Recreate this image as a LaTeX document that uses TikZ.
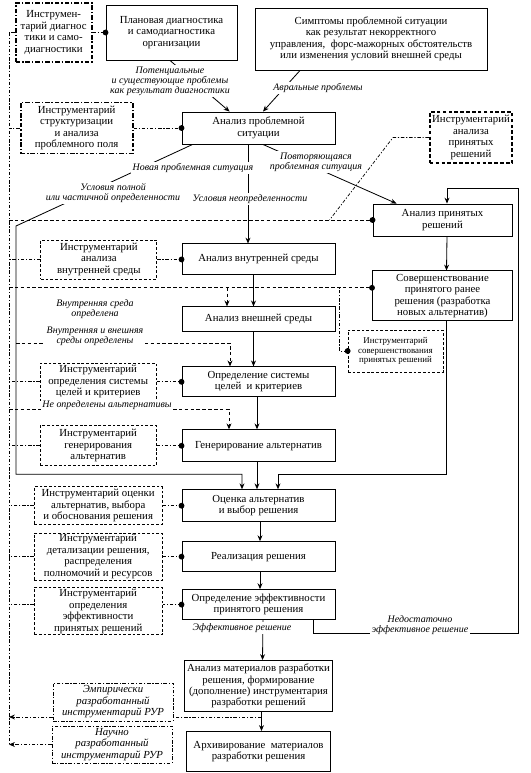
\documentclass[tikz,border=0pt]{standalone}
\usepackage{fontspec}
\setmainfont{Liberation Serif}
\usepackage{tikz}
\usetikzlibrary{arrows.meta,positioning,calc}
\newcommand{\boxfont}{\fontsize{9.2}{9.8}\selectfont}
\newcommand{\smallboxfont}{\fontsize{7.6}{8.4}\selectfont}
\newcommand{\lblfont}{\fontsize{8.5}{8.6}\selectfont\itshape}
\tikzset{
  stagebox/.style={rectangle,draw=black,line width=0.8pt,fill=white,align=center,
    font=\boxfont,minimum width=4.59cm,inner xsep=2pt,inner ysep=1pt},
  toolbox/.style={rectangle,draw=black,line width=0.6pt,dash pattern=on 2.4pt off 1.6pt,
    fill=white,align=center,font=\boxfont,inner xsep=2pt,inner ysep=1pt},
  boldtool/.style={toolbox,line width=1.5pt,dash pattern=on 4pt off 1.6pt on 1.2pt off 1.6pt},
  boldtooldash/.style={toolbox,line width=1.5pt,dash pattern=on 3pt off 2pt},
  rurbox/.style={toolbox,dash pattern=on 3pt off 1.5pt on 1pt off 1.5pt,font=\boxfont\itshape},
  flowarr/.style={-{Stealth[length=5pt,width=4.2pt]},line width=0.7pt},
  toolline/.style={line width=0.6pt,dash pattern=on 3pt off 1.5pt on 1pt off 1.5pt},
  condline/.style={line width=0.6pt,dash pattern=on 3pt off 2pt},
  condlbl/.style={font=\lblfont,fill=white,align=center,inner sep=1.5pt},
  joint/.style={circle,fill=black,inner sep=0pt,minimum size=5pt},
}
\begin{document}
\begin{tikzpicture}[x=0.03cm,y=-0.03cm]
  \useasboundingbox (0,0) rectangle (531,773);
  % top row
  \node[stagebox,minimum width=3.93cm,minimum height=1.65cm] (plan) at (171.5,32.5) {Плановая диагностика\\и самодиагностика\\организации};
  \node[boldtool,minimum width=2.28cm,minimum height=1.77cm,left=0.39cm of plan] (diagtool) {Инструмен-\\тарий диагнос\\тики и само-\\диагностики};
  \node[stagebox,minimum width=6.96cm,minimum height=1.86cm] (sympt) at (371,39) {Симптомы проблемной ситуации\\как результат некорректного\\управления,\ \ форс-мажорных обстоятельств\\или изменения условий внешней среды};

  % main column
  \node[stagebox,minimum height=0.96cm] (probl) at (258.5,128) {Анализ проблемной\\ситуации};
  \node[stagebox,minimum height=0.93cm,below=2.97cm of probl] (inner) {Анализ внутренней среды};
  \node[stagebox,minimum height=0.75cm,below=0.93cm of inner] (outer) {Анализ внешней среды};
  \node[stagebox,minimum height=0.9cm,below=1.02cm of outer] (goals) {Определение системы\\целей\ \ и критериев};
  \node[stagebox,minimum height=0.96cm,below=0.96cm of goals] (gener) {Генерирование альтернатив};
  \node[stagebox,minimum height=0.96cm,below=0.81cm of gener] (choice) {Оценка альтернатив\\и выбор решения};
  \node[stagebox,minimum height=0.9cm,below=0.57cm of choice] (impl) {Реализация решения};
  \node[stagebox,minimum height=0.9cm,below=0.51cm of impl] (effect) {Определение эффективности\\принятого решения};
  \node[stagebox,minimum width=4.32cm,minimum height=1.53cm,below=1.2cm of effect] (materials) {Анализ материалов разработки\\решения, формирование\\(дополнение) инструментария\\разработки решений};
  \node[stagebox,minimum width=4.32cm,minimum height=1.2cm,below=0.57cm of materials] (archive) {Архивирование\ \ материалов\\разработки решения};

  % tools on the left
  \node[boldtool,minimum width=3.36cm,minimum height=1.53cm,left=1.44cm of probl] (structtool) {Инструментарий\\структуризации\\и анализа\\проблемного поля};
  \node[toolbox,minimum width=3.48cm,minimum height=1.17cm,left=0.73cm of inner] (innertool) {Инструментарий\\анализа\\внутренней среды};
  \node[toolbox,minimum width=3.48cm,minimum height=1.11cm,left=0.75cm of goals] (goalstool) {Инструментарий\\определения системы\\целей и критериев};
  \node[toolbox,minimum width=3.48cm,minimum height=1.2cm,left=0.75cm of gener] (genertool) {Инструментарий\\генерирования\\альтернатив};
  \node[toolbox,minimum width=3.84cm,minimum height=1.14cm,left=0.57cm of choice] (choicetool) {Инструментарий оценки\\альтернатив, выбора\\и обоснования решения};
  \node[toolbox,minimum width=3.84cm,minimum height=1.41cm,left=0.57cm of impl] (impltool) {Инструментарий\\детализации решения,\\распределения\\полномочий и ресурсов};
  \node[toolbox,minimum width=3.84cm,minimum height=1.41cm,left=0.57cm of effect,yshift=-0.2cm] (effecttool) {Инструментарий\\определения\\эффективности\\принятых решений};

  % right column
  \node[boldtooldash,minimum width=2.4cm,minimum height=1.53cm] (reviewtool) at (471,137.5) {Инструментарий\\анализа\\принятых\\решений};
  \node[stagebox,minimum width=4.17cm,minimum height=0.96cm] (review) at (442.5,220) {Анализ принятых\\решений};
  \node[stagebox,minimum width=4.2cm,minimum height=1.5cm,below=1.02cm of review] (improve) {Совершенствование\\принятого ранее\\решения (разработка\\новых альтернатив)};
  \node[toolbox,font=\smallboxfont,minimum width=2.85cm,minimum height=1.26cm] (improvetool) at (395.5,351) {Инструментарий\\совершенствования\\принятых решений};

  % RUR tools
  \node[rurbox,minimum width=3.6cm,minimum height=1.14cm] (emptool) at (113,702) {Эмпирически\\разработанный\\инструментарий РУР};
  \node[rurbox,minimum width=3.6cm,minimum height=1.11cm] (scitool) at (112,744.5) {Научно\\разработанный\\инструментарий РУР};

  \coordinate (busx) at (9,0);
  \coordinate (loopL) at (16,226);
  \coordinate (loopR) at (518,188);
  \coordinate (choiceL) at ($(choice.north)+(-16.5,0)$);
  \coordinate (choiceR) at ($(choice.north)+(19.5,0)$);
  \coordinate (outerin) at ($(outer.north)+(-31.5,0)$);
  \coordinate (goalsin) at ($(goals.north)+(-28.5,0)$);
  \coordinate (generin) at ($(gener.north)+(-29.5,0)$);
  \coordinate (impin) at ($(improve.north west)!0.34!(improve.south west)$);
  \coordinate (emptap) at ($(materials.south)+(3,5)$);

  % tool bus
  \draw[toolline] (busx |- diagtool.west) -- (busx |- scitool.west);
  \draw[toolline] (diagtool.west) -- (busx |- diagtool.west);
  \draw[toolline] (diagtool.east) -- (plan.west);
  \draw[toolline] (structtool.west) -- (busx |- structtool.west);
  \draw[toolline] (structtool.east) -- (probl.west);
  \draw[toolline] (innertool.west) -- (busx |- innertool.west);
  \draw[toolline] (innertool.east) -- (inner.west);
  \draw[toolline] (goalstool.west) -- (busx |- goalstool.west);
  \draw[toolline] (goalstool.east) -- (goals.west);
  \draw[toolline] (genertool.west) -- (busx |- genertool.west);
  \draw[toolline] (genertool.east) -- (gener.west);
  \draw[toolline] (choicetool.west) -- (busx |- choicetool.west);
  \draw[toolline] (choicetool.east) -- (choice.west);
  \draw[toolline] (impltool.west) -- (busx |- impltool.west);
  \draw[toolline] (impltool.east) -- (impl.west);
  \draw[toolline] (effect.west) -- (effect.west -| effecttool.east);
  \draw[toolline] (effecttool.west |- effect.west) -- (busx |- effect.west);
  \draw[toolline] (reviewtool.west) -- ++(-36,0) -- ($(review.west)+(-43,0)$);
  \draw[condline] (busx |- review.west) -- (review.west);
  \draw[condline] (busx |- impin) -- (impin);
  \draw[toolline] (improvetool.west) -| ($(improvetool.west |- impin)+(-8,0)$);
  \draw[toolline] (emptap) -- (emptap -| emptool.east);
  \draw[toolline,flowarr] (emptool.west |- emptap) -- (busx |- emptap);
  \draw[toolline,flowarr] (scitool.west) -- (busx |- scitool.west);

  % flow
  \draw[flowarr] ($(plan.south)+(-1.5,0)$) -- ($(probl.north west)+(48,0)$);
  \draw[flowarr] ($(sympt.south)+(-71,0)$) -- ($(probl.north)+(4.5,0)$);
  \draw[flowarr] ($(probl.south)+(4.5,0)$) -- ($(review.north west)+(24,0)$);
  \draw[flowarr] ($(probl.south)+(-10.5,0)$) -- ($(inner.north)+(-10.5,0)$);
  \draw[flowarr] ($(probl.south west)+(11,0)$) -- (loopL) -- ($(loopL |- choiceL)+(0,-15)$) -| (choiceL);
  \draw[flowarr] ($(inner.south)+(-5,0)$) -- ($(outer.north)+(-5,0)$);
  \draw[flowarr] ($(outer.south)+(-5,0)$) -- ($(goals.north)+(-5,0)$);
  \draw[flowarr] ($(goals.south)+(-1.5,0)$) -- ($(gener.north)+(-1.5,0)$);
  \draw[flowarr] ($(gener.south)+(-1.5,0)$) -- ($(choice.north)+(-1.5,0)$);
  \draw[flowarr] ($(choice.south)+(1.5,0)$) -- ($(impl.north)+(1.5,0)$);
  \draw[flowarr] ($(impl.south)+(1.5,0)$) -- ($(effect.north)+(1.5,0)$);
  \draw[flowarr] ($(effect.south)+(4.5,0)$) -- ($(materials.north)+(4,0)$);
  \draw[flowarr] ($(materials.south)+(3,0)$) -- ($(archive.north)+(3,0)$);
  \draw[flowarr] ($(review.south)+(4.5,0)$) -- ($(improve.north)+(4,0)$);
  \draw[flowarr] ($(improve.south)+(4,0)$) |- ($(choiceR)+(0,-15)$) -- (choiceR);
  \draw[flowarr] ($(effect.south east)+(-22,0)$) -- ++(0,13) -| (loopR) -| ($(review.north)+(4.5,0)$);
  \draw[condline,flowarr] (outerin |- impin) -- (outerin);
  \draw[condline,flowarr] ($(loopL |- goalsin)+(0,-23)$) -| (goalsin);
  \draw[condline,flowarr] ($(busx |- generin)+(0,-20)$) -| (generin);

  % joints
  \node[joint] (jplan) at (plan.west) {};
  \node[joint] (jprobl) at (probl.west) {};
  \node[joint] (jinner) at (inner.west) {};
  \node[joint] (jgoals) at (goals.west) {};
  \node[joint] (jgener) at (gener.west) {};
  \node[joint] (jchoice) at (choice.west) {};
  \node[joint] (jimpl) at (impl.west) {};
  \node[joint] (jeffect) at (effect.west) {};
  \node[joint] (jreview) at (review.west) {};
  \node[joint] (jimprove) at (impin) {};
  \node[joint] (jimptool) at (improvetool.west) {};

  % labels
  \node[condlbl] (potlbl) at (170,81) {Потенциальные\\и существующие проблемы\\как результат диагностики};
  \node[condlbl] (urglbl) at (318,88) {Авральные проблемы};
  \node[condlbl] (newlbl) at (193,168) {Новая проблемная ситуация};
  \node[condlbl] (replbl) at (316,162) {Повторяющаяся\\проблемная ситуация};
  \node[condlbl] (certlbl) at (113,193) {Условия полной\\или частичной определенности};
  \node[condlbl] (uncertlbl) at (250,199) {Условия неопределенности};
  \node[condlbl] (innerlbl) at (95,309) {Внутренняя среда\\определена};
  \node[condlbl] (bothlbl) at (95,336) {Внутренняя и внешняя\\среды определены};
  \node[condlbl] (noaltlbl) at (107,405) {Не определены альтернативы};
  \node[condlbl] (efflbl) at (242,628) {Эффективное решение};
  \node[condlbl] (lowlbl) at (420,625) {Недостаточно\\эффективное решение};
\end{tikzpicture}
\end{document}
